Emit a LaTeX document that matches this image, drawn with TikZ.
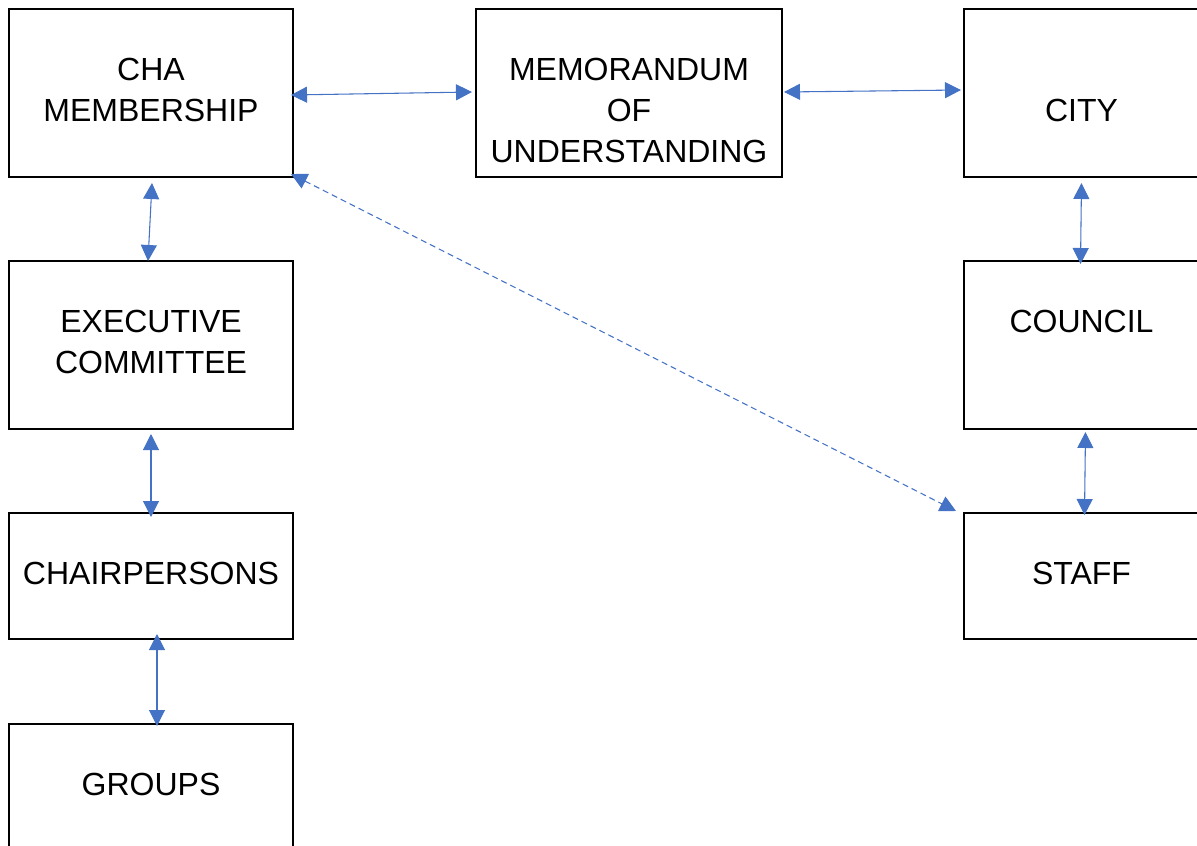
\documentclass[tikz,border=0pt]{standalone}
\usepackage{fontspec}
\setmainfont{Liberation Sans}
\usetikzlibrary{arrows.meta,calc,positioning}
\definecolor{linkblue}{HTML}{4472C4}

\begin{document}
\begin{tikzpicture}[x=0.75pt,y=0.75pt,yscale=-1,xscale=1,
  box/.style={draw, line width=1.5pt, inner sep=0pt, align=center,
    minimum width=213pt, minimum height=126pt,
    font=\fontsize{24}{30.75}\selectfont},
  shortbox/.style={box, minimum height=94.5pt},
  link/.style={draw=linkblue, line width=0.8pt,
    {Triangle[length=12pt,width=12pt]}-{Triangle[length=12pt,width=12pt]}, color=linkblue},
  dashlink/.style={link, dash pattern=on 4.5pt off 3pt}]
  \useasboundingbox (0,0) rectangle (1197,846);

  % left column
  \node[box] (mem) at (151,93) {\strut CHA\\\strut MEMBERSHIP};
  \node[box] (exec) at (151,345) {\strut EXECUTIVE\\\strut COMMITTEE};
  \node[shortbox] (chair) at (151,576) {\strut CHAIRPERSONS};
  \node[shortbox] (groups) at (151,787) {\strut GROUPS};

  % middle
  \node[box, minimum width=229.5pt] (mou) at (629,93) {\strut\\\strut MEMORANDUM\\\strut OF\\\strut UNDERSTANDING};

  % right column
  \node[box, minimum width=176.25pt] (city) at (1081.5,93) {\strut\\\strut CITY};
  \node[box, minimum width=176.25pt] (council) at (1081.5,345) {\strut COUNCIL\\\strut};
  \node[shortbox, minimum width=176.25pt] (staff) at (1081.5,576) {\strut STAFF};

  % connectors
  \draw[link] ($(mem.east)+(-3,2)$) -- ($(mou.west)+(-3,-1)$);
  \draw[link] ($(mou.east)+(1,-1)$) -- ($(city.west)+(-2,-3)$);
  \draw[link] ($(mem.south)+(1,5)$) -- ($(exec.north)+(-3,1)$);
  \draw[link] ($(exec.south)+(0,4)$) -- ($(chair.north)+(0,5)$);
  \draw[link] ($(chair.south)+(6,-6)$) -- ($(groups.north)+(6,3)$);
  \draw[link] ($(city.south)+(0,5)$) -- ($(council.north)+(-1,4)$);
  \draw[link] ($(council.south)+(4,2)$) -- ($(staff.north)+(3,3)$);
  \draw[dashlink] ($(mem.south east)+(-3,-4)$) -- ($(staff.north west)+(-7,-1)$);
\end{tikzpicture}
\end{document}
